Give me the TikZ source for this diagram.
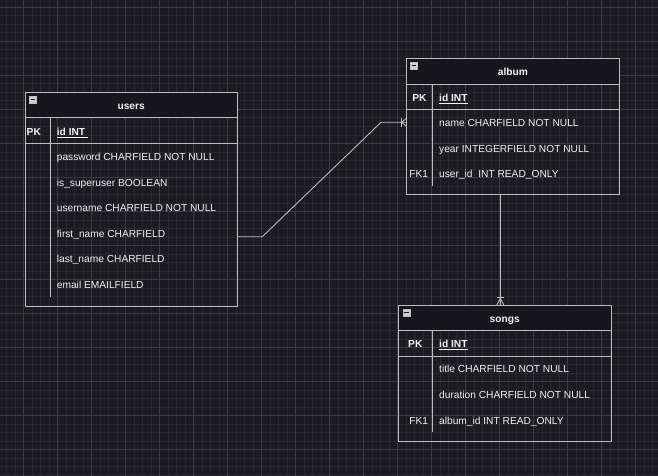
\documentclass[tikz,border=0pt]{standalone}
\usepackage{fontspec}
\setmainfont{Liberation Sans}
\usepackage{tikz}
\usetikzlibrary{calc}
\usetikzlibrary{positioning}
\definecolor{canvas}{HTML}{1C1B22}
\definecolor{gridminor}{HTML}{28272E}
\definecolor{gridmajor}{HTML}{3C3B43}
\definecolor{headdark}{HTML}{17161C}
\definecolor{tblline}{HTML}{BDBDBD}
\definecolor{txtwhite}{HTML}{F2F2F2}

\begin{document}
\begin{tikzpicture}[x=1pt,y=-1pt]
            \begin{scope}[tbl/.style={draw=tblline,line width=0.95pt,inner sep=0pt,outer sep=0pt,anchor=north west},
                fld/.style={anchor=west,inner sep=0pt,text=txtwhite,font=\fontsize{10.2}{12}\selectfont,text height=7.3pt,text depth=0pt},
                keyfld/.style={fld,anchor=center,font=\fontsize{10.2}{12}\selectfont\bfseries},
                ttl/.style={fld,anchor=center,font=\fontsize{10.2}{12}\selectfont\bfseries},
                conn/.style={draw=tblline,line width=0.9pt},
                minus/.style={draw=tblline,fill=tblline!70,line width=0.6pt}]
            % background and grid
            \fill[canvas] (0,0) rectangle (658,476);
            \useasboundingbox (0,0) rectangle (658,476);
            \foreach \gx in {6.3,14.8,...,658} \draw[gridminor,line width=0.6pt] (\gx,0) -- (\gx,476);
            \foreach \gy in {7.3,15.8,...,476} \draw[gridminor,line width=0.6pt] (0,\gy) -- (658,\gy);
            \foreach \gx in {23.3,57.3,...,658} \draw[gridmajor,line width=0.8pt] (\gx,0) -- (\gx,476);
            \foreach \gy in {7.3,41.3,...,476} \draw[gridmajor,line width=0.8pt] (0,\gy) -- (658,\gy);

            % users
            \fill[headdark] (25,92) rectangle (237.5,117.3);
            \node[tbl,minimum width=212.5,minimum height=214.5] (users) at (25,92) {};
            \draw[tbl] (25,117.3) -- (237.5,117.3);
            \draw[tbl] (25,143.3) -- (237.5,143.3);
            \draw[tbl] (50.7,117.3) -- (50.7,297);
            \draw[minus] (29,96.5) rectangle (36.5,103.5);
            \draw[headdark,line width=1pt] (30.5,100) -- (35,100);
            \node[ttl] (usersT) at (131.2,106) {users};
            \node[keyfld,anchor=west] (usersPK) at (26.5,132) {PK};
            \node[fld,font=\fontsize{10.2}{12}\selectfont\bfseries] (usersId) at (56.7,132) {\underline{id INT\ }};
            \node[fld] (usersPw) at (56.7,157) {password CHARFIELD NOT NULL};
            \node[fld] (usersSu) at (56.7,183) {is\_superuser BOOLEAN};
            \node[fld] (usersUn) at (56.7,208) {username CHARFIELD NOT NULL};
            \node[fld] (usersFn) at (56.7,233.6) {first\_name CHARFIELD};
            \node[fld] (usersLn) at (56.7,258.6) {last\_name CHARFIELD};
            \node[fld] (usersEm) at (56.7,284.6) {email EMAILFIELD};

            % album
            \fill[headdark] (406.7,58.3) rectangle (619.3,84);
            \node[tbl,minimum width=212.6,minimum height=136] (album) at (406.7,58.3) {};
            \draw[tbl] (406.7,84) -- (619.3,84);
            \draw[tbl] (406.7,109.3) -- (619.3,109.3);
            \draw[tbl] (432.3,84) -- (432.3,185.7);
            \draw[minus] (410.3,62.5) rectangle (417.5,69.5);
            \draw[headdark,line width=1pt] (411.8,66) -- (416,66);
            \node[ttl] (albumT) at (513,72) {album};
            \node[keyfld] (albumPK) at (419.5,97.6) {PK};
            \node[fld,font=\fontsize{10.2}{12}\selectfont\bfseries] (albumId) at (439,97.6) {\underline{id INT}};
            \node[fld] (albumNm) at (439,123) {name CHARFIELD NOT NULL};
            \node[fld] (albumYr) at (439,148.6) {year INTEGERFIELD NOT NULL};
            \node[keyfld,font=\fontsize{10.2}{12}\selectfont] (albumFK) at (418.7,173.6) {FK1};
            \node[fld] (albumUs) at (439,173.6) {user\_id\ \ INT READ\_ONLY};

            % songs
            \fill[headdark] (398.3,305) rectangle (611,330);
            \node[tbl,minimum width=212.7,minimum height=136] (songs) at (398.3,305) {};
            \draw[tbl] (398.3,330) -- (611,330);
            \draw[tbl] (398.3,356) -- (611,356);
            \draw[tbl] (432.3,330) -- (432.3,431.7);
            \draw[minus] (402.8,308.8) rectangle (410,315.8);
            \draw[headdark,line width=1pt] (404.3,312.3) -- (408.5,312.3);
            \node[ttl] (songsT) at (504.7,319.3) {songs};
            \node[keyfld] (songsPK) at (415.3,343.6) {PK};
            \node[fld,font=\fontsize{10.2}{12}\selectfont\bfseries] (songsId) at (439,343.6) {\underline{id INT}};
            \node[fld] (songsTi) at (439,369.3) {title CHARFIELD NOT NULL};
            \node[fld] (songsDu) at (439,394.6) {duration CHARFIELD NOT NULL};
            \node[keyfld,font=\fontsize{10.2}{12}\selectfont] (songsFK) at (418.7,420.6) {FK1};
            \node[fld] (songsAl) at (439,420.6) {album\_id INT READ\_ONLY};

            % relations
            \coordinate (u1) at (users.east |- 0,236.7);
            \coordinate (a1) at (album.west |- 0,122.3);
            \coordinate (a2) at (album.south -| 500.3,0);
            \coordinate (s1) at (songs.north -| 500.3,0);
            \draw[conn] (u1) -- ++(24.8,0) -- (381,122.3) -- (a1);
            \draw[conn] ($(a1)+(-5.7,-4.3)$) -- ++(0,8.6);
            \draw[conn] ($(a1)+(-5,0)$) -- ($(a1)+(0,-4.3)$);
            \draw[conn] ($(a1)+(-5,0)$) -- ($(a1)+(0,4.3)$);
            \draw[conn] (a2) -- (s1);
            \draw[conn] ($(s1)+(-3.5,-7.2)$) -- ++(7,0);
            \draw[conn] ($(s1)+(0,-6.5)$) -- ($(s1)+(-3.5,0)$);
            \draw[conn] ($(s1)+(0,-6.5)$) -- ($(s1)+(3.5,0)$);
            \end{scope}
        \end{tikzpicture}
\end{document}
